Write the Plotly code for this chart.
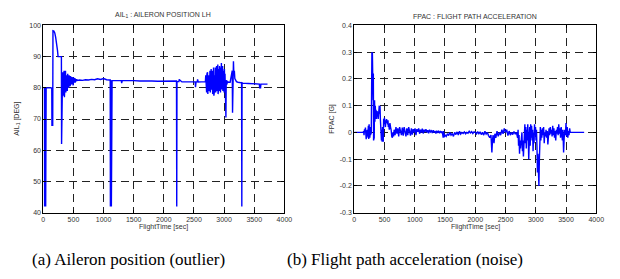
import plotly.graph_objects as go

# ---------------- Data: (a) aileron position ----------------
ail_t = [0, 18, 21, 24, 27, 30, 33, 36, 39, 44, 47, 140, 143, 156, 160, 175, 190, 205, 220, 235, 245, 300,
         303, 308,
         314, 320, 326, 332, 338, 344, 350, 356, 362, 368, 374, 380, 386, 392, 398, 404, 410, 416, 422,
         428, 434, 440, 446, 452, 458, 464, 470, 476, 482, 488, 494, 500, 506, 512, 518, 524, 530, 536,
         542, 548, 554, 560, 568,
         600, 650, 700, 750, 800, 850, 900, 950, 1000, 1050, 1100,
         1110, 1113, 1117, 1121, 1125, 1129, 1133, 1137, 1141, 1146,
         1200, 1260, 1295, 1300, 1310, 1400, 1500, 1600, 1700, 1800, 1900, 2000, 2100, 2200, 2210, 2214, 2218,
         2250, 2255, 2300, 2400, 2500, 2520, 2525, 2535, 2555, 2560, 2570, 2650, 2690,
         2695, 2700, 2705, 2710, 2715, 2720, 2725, 2730, 2735, 2740, 2745, 2750, 2755, 2760, 2765, 2770,
         2775, 2780, 2785, 2790, 2795, 2800, 2805, 2810, 2815, 2820, 2825, 2830, 2835, 2840, 2845, 2850,
         2855, 2860, 2865, 2870, 2875, 2880, 2885, 2890, 2895, 2900, 2905, 2910, 2915, 2920, 2925, 2930,
         2935, 2940, 2945, 2950, 2955, 2960, 2965, 2970, 2975, 2980, 2985, 2990, 2995, 3000, 3005, 3010,
         3015, 3020, 3025, 3030, 3035, 3040, 3045, 3050, 3060, 3070,
         3100, 3125, 3135, 3140, 3145, 3155, 3162, 3170, 3178, 3190, 3205, 3230, 3260, 3290, 3294, 3298, 3302,
         3310, 3400, 3500, 3585, 3590, 3605, 3610, 3720]
ail_v = [80, 80, 42, 80, 42, 80, 42, 80, 42, 80, 80, 80, 68, 68, 98.3, 98.2, 97.6, 96.2, 94.5, 92, 90, 90,
         62, 83,
         79, 85, 77.5, 84.5, 80, 85.5, 77, 83, 80.5, 85.5, 78.5, 84, 80.5, 83.5, 79, 84.5, 81, 83, 80,
         84, 81.5, 83.2, 80.5, 83.8, 81, 83, 81.8, 83.5, 81.2, 82.8, 80.8, 83.4, 81.6, 82.9, 82, 83.1, 81.7,
         82.6, 82.1, 82.8, 82.2, 82.6, 82.4,
         82.5, 82.4, 82.6, 82.5, 82.7, 82.6, 82.9, 82.7, 83.0, 82.6, 82.5,
         82.5, 42, 82.4, 42, 82.4, 42, 82.3, 42, 82.3, 82.3,
         82.4, 82.3, 82.3, 81.5, 82.3, 82.4, 82.3, 82.2, 82.3, 82.2, 82.1, 82.2, 82.1, 82.2, 82.2, 42, 82.0,
         82.0, 82.7, 81.9, 81.8, 81.9, 81.9, 80.2, 81.9, 81.9, 82.7, 81.9, 81.9, 82.0,
         84.0, 80.5, 83.5, 78.5, 84.5, 79.5, 85.0, 78.0, 83.0, 80.0, 84.0, 79.0, 82.5, 80.5, 85.5, 78.5,
         84.0, 81.0, 86.0, 79.5, 83.5, 80.0, 85.5, 78.0, 84.5, 80.5, 86.5, 77.5, 85.0, 79.0, 84.0, 80.5,
         86.5, 78.5, 83.5, 80.0, 87.0, 79.0, 85.0, 81.0, 87.5, 78.0, 84.5, 80.5, 86.0, 79.0, 87.0, 80.0,
         85.0, 78.5, 86.5, 81.0, 88.0, 79.5, 85.5, 80.5, 87.0, 79.0, 86.0, 81.0, 85.5, 78.5, 86.0, 80.0,
         84.5, 79.0, 83.0, 70.5, 82.5, 81.0, 82.5, 81.5, 82.0, 81.8,
         81.8, 84.0, 85.5, 72.0, 85.0, 88.5, 84.0, 85.5, 83.0, 82.3, 82.0, 81.8, 81.6, 81.6, 42, 81.6, 42,
         81.5, 81.4, 81.3, 81.2, 80.0, 80.0, 81.2, 81.2]

# ---------------- Data: (b) flight path acceleration ----------------
fpac_t = [0, 150, 155, 162, 170, 178, 185, 192, 198, 204, 210, 216, 222, 228, 234, 240, 246, 252, 258, 264,
          270, 276, 282,
          286, 292, 296, 300, 304, 308, 312, 316, 320, 326, 330, 336, 342, 348, 354, 360, 366, 372, 378, 384,
          390, 396, 402, 408, 414, 420, 426, 432, 438, 444, 450, 456, 462, 468, 474, 480, 486, 492, 498, 504,
          510, 516, 522, 528, 534, 540, 546, 552, 558, 564, 570, 580, 590, 600, 610, 620, 630, 640, 650,
          660, 675, 690, 705, 720, 735, 750, 765, 780, 795, 810, 825, 840, 855, 870, 885, 900, 915, 930, 945,
          960, 975, 990, 1005, 1020, 1035, 1050, 1065, 1080, 1095, 1110, 1125, 1140, 1155, 1170, 1185, 1200,
          1215, 1230, 1245, 1260, 1275, 1290, 1305, 1320, 1335, 1350, 1365, 1380, 1395, 1410, 1425, 1440,
          1455, 1470, 1478, 1485,
          1500, 1520, 1540, 1560, 1580, 1600, 1620, 1640, 1660, 1680, 1700, 1720, 1740, 1760, 1780, 1800,
          1820, 1840, 1860, 1880, 1900, 1920, 1940, 1960, 1980, 2000, 2020, 2040, 2060, 2080, 2100, 2120,
          2140, 2160, 2180, 2200, 2220, 2240, 2260, 2275, 2285, 2295, 2310, 2325, 2340, 2360, 2380, 2400,
          2420, 2440, 2460, 2480, 2500, 2520, 2540, 2560, 2580, 2600, 2620, 2640, 2660, 2680,
          2700, 2708, 2716, 2724, 2732, 2740, 2748, 2756, 2764, 2772, 2780, 2788, 2796, 2804, 2812, 2820,
          2828, 2836, 2844, 2852, 2860, 2868, 2876, 2884, 2892, 2900, 2908, 2916, 2924, 2932, 2940, 2948,
          2956, 2964, 2972, 2980, 2988, 2996, 3004, 3012, 3020, 3028, 3036, 3044, 3052, 3060, 3068, 3076,
          3084, 3092, 3100,
          3110, 3120, 3130, 3140, 3150, 3160, 3170, 3180, 3190, 3200, 3210, 3220, 3230, 3240, 3250, 3260,
          3270, 3280, 3290, 3300, 3310, 3320, 3330, 3340, 3350, 3360, 3370, 3380, 3390, 3400, 3410, 3420,
          3430, 3440, 3450, 3460, 3470, 3480, 3490, 3500, 3510, 3520, 3530, 3540, 3550, 3560, 3570, 3580, 3800]
fpac_v = [0, 0, 0.005, -0.01, 0.012, 0.002, 0.018, 0.005, -0.025, 0.008, -0.02, 0.01, -0.015, 0.005, 0.025,
          -0.025, 0.03, 0.01, -0.02, 0.02, -0.01, 0.0, -0.005,
          0.3, 0.3, 0.28, 0.3, 0.2, 0.25, 0.12, 0.22, -0.03, 0.05, -0.02, 0.12, 0.04, 0.1, 0.06, 0.085, 0.05,
          0.07, 0.08, 0.06, 0.075, 0.05, 0.09, 0.06, 0.1, 0.07, 0.1, 0.05, 0.02, -0.02, -0.03, 0.01, -0.035,
          0.02, -0.01, -0.035, 0.05, 0.04, 0.055, 0.035, 0.05, 0.02, 0.045, 0.04, 0.05, 0.035, 0.045, 0.03,
          0.045, 0.02, 0.03, 0.01, 0.035, 0.02, 0.01, -0.015, -0.02, 0.0, -0.015,
          0.01, -0.01, 0.02, -0.005, 0.015, -0.015, 0.02, 0.0, -0.01, 0.018, -0.012, 0.02, 0.0, -0.015, 0.015,
          -0.01, 0.02, 0.005, -0.012, 0.015, -0.008, 0.012, 0.0, 0.015, -0.01, 0.012, 0.002, 0.015, -0.005,
          0.01, 0.0, 0.014, -0.004, 0.01, 0.002, 0.012, 0.0, 0.008, -0.003, 0.01, 0.002, 0.006, -0.002, 0.008,
          0.0, 0.005, -0.004, 0.006, 0.0, 0.004, -0.003, 0.005, 0.0, 0.003, -0.02, 0.005, -0.018,
          -0.01, -0.015, -0.005, -0.012, 0.0, -0.01, -0.004, -0.015, 0.0, -0.008, 0.002, -0.01, 0.004, -0.006,
          0.0, -0.004, 0.002, -0.005, 0.0, -0.003, 0.004, -0.002, 0.003, -0.004, 0.002, 0.0, -0.006, 0.003,
          -0.005, 0.002, -0.008, 0.0, -0.01, 0.004, -0.006, 0.0, -0.012, -0.02, -0.01, -0.075, -0.03, -0.01,
          -0.04, -0.005, -0.02, 0.005, -0.015, 0.0, -0.01, 0.01, -0.005, 0.015, 0.0, 0.01, -0.012, 0.005,
          -0.01, 0.0, -0.008, 0.003, -0.005, 0.0,
          -0.02, 0.01, -0.05, -0.01, -0.08, -0.03, -0.06, -0.02, -0.04, 0.0, -0.07, -0.03, -0.09, -0.05,
          -0.02, 0.03, -0.04, 0.02, -0.06, 0.01, -0.03, 0.03, -0.02, -0.1, -0.04, 0.02, -0.05, 0.03, -0.02,
          0.025, -0.03, 0.01, -0.07, 0.0, -0.04, 0.03, -0.01, 0.02, -0.03, 0.01, -0.05, -0.15, -0.08, -0.15,
          -0.2, -0.1, -0.02, 0.02, -0.03, 0.01, -0.02,
          0.015, -0.01, 0.02, -0.04, 0.0, -0.015, 0.01, -0.02, 0.005, -0.045, -0.005, 0.015, -0.01, 0.02,
          -0.005, 0.01, -0.015, 0.025, -0.01, 0.015, -0.02, 0.005, -0.03, 0.01, -0.005, 0.02, -0.01, 0.03,
          -0.005, 0.015, -0.02, 0.02, 0.0, -0.03, 0.01, -0.075, -0.02, 0.01, -0.01, 0.035, -0.015, 0.02,
          -0.02, 0.005, -0.01, 0.015, 0.0, 0.0, 0.0]

x_ticks = [0, 500, 1000, 1500, 2000, 2500, 3000, 3500, 4000]
ail_ticks = [40, 50, 60, 70, 80, 90, 100]
fpac_ticks = [-0.3, -0.2, -0.1, 0, 0.1, 0.2, 0.3, 0.4]
fpac_tick_text = ["-0.3", "-0.2", "-0.1", "0", "0.1", "0.2", "0.3", "0.4"]

W, H = 620, 279
def px(x):
    return x / W
def py(y):
    return 1 - y / H

fig = go.Figure()
fig.add_trace(go.Scatter(x=ail_t, y=ail_v, mode="lines", line=dict(color="#0000ff", width=1.4),
                         xaxis="x", yaxis="y", showlegend=False, hoverinfo="skip"))
fig.add_trace(go.Scatter(x=fpac_t, y=fpac_v, mode="lines", line=dict(color="#0000ff", width=1.4),
                         xaxis="x2", yaxis="y2", showlegend=False, hoverinfo="skip"))

tick_font = dict(family="Liberation Sans, Arial", size=7, color="#333333")
common = dict(showline=True, linecolor="black", linewidth=1, mirror="ticks", ticks="inside",
              ticklen=3, tickcolor="black", showgrid=True, gridcolor="#222222", gridwidth=1,
              griddash="8px,5px", zeroline=False, tickfont=tick_font)

fig.update_layout(
    width=W, height=H, margin=dict(l=0, r=0, t=0, b=0),
    paper_bgcolor="white", plot_bgcolor="white",
    xaxis=dict(domain=[px(42), px(287)], range=[0, 4000], tickvals=x_ticks, anchor="y", **common),
    yaxis=dict(domain=[py(214), py(22)], range=[40, 100], tickvals=ail_ticks, anchor="x", **common),
    xaxis2=dict(domain=[px(358), px(604)], range=[0, 4000], tickvals=x_ticks, anchor="y2", **common),
    yaxis2=dict(domain=[py(214), py(22)], range=[-0.3, 0.4], tickvals=fpac_ticks, ticktext=fpac_tick_text,
                anchor="x2", **common),
)

small = dict(family="Liberation Sans, Arial", size=7, color="#333333")
cap = dict(family="Liberation Serif, Times New Roman", size=17, color="black")
ann = [
    dict(x=px(164), y=py(11), text="AIL<sub>1</sub> : AILERON POSITION LH", font=small),
    dict(x=px(481), y=py(13), text="FPAC : FLIGHT PATH ACCELERATION", font=small),
    dict(x=px(164), y=py(229), text="FlightTime [sec]", font=small),
    dict(x=px(481), y=py(229), text="FlightTime [sec]", font=small),
    dict(x=px(15), y=py(118), text="AIL<sub>1</sub> [DEG]", font=small, textangle=-90),
    dict(x=px(335), y=py(118), text="FPAC [G]", font=small, textangle=-90),
    dict(x=px(129), y=py(262), text="(a) Aileron position (outlier)", font=cap),
    dict(x=px(410), y=py(262), text="(b) Flight path acceleration (noise)", font=cap),
]
for a in ann:
    a.update(xref="paper", yref="paper", showarrow=False, xanchor="center", yanchor="middle")
fig.update_layout(annotations=ann)

fig.write_html("out.html", config={"displayModeBar": False},
               post_script="document.body.style.margin='0';document.body.style.overflow='hidden';")
